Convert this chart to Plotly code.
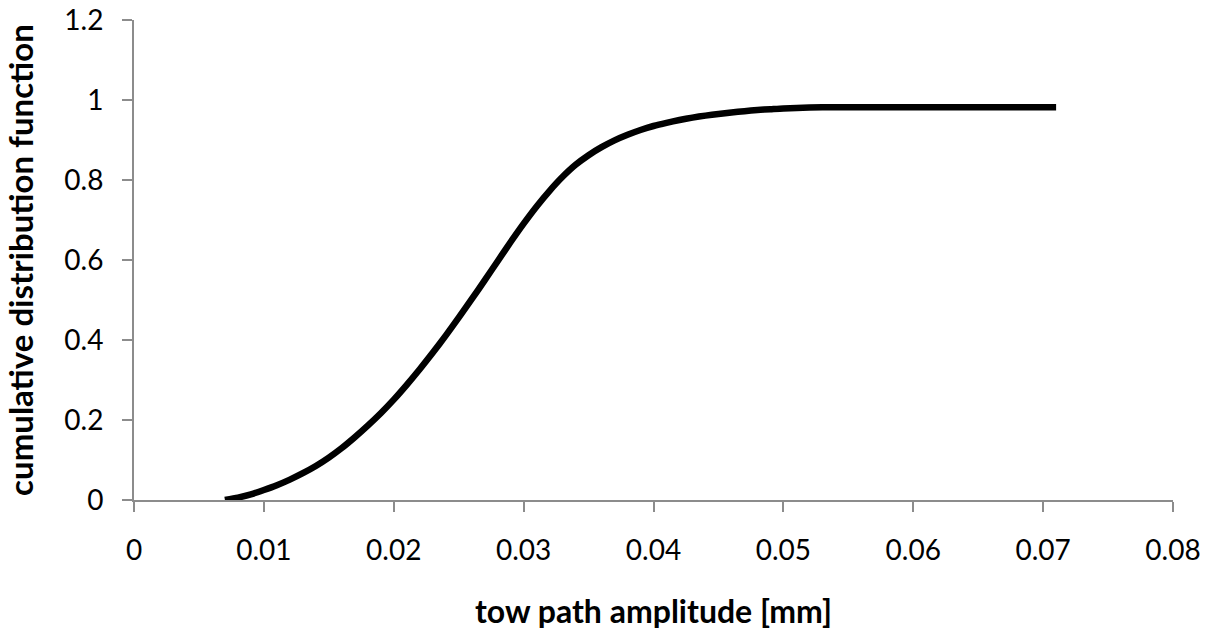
import plotly.graph_objects as go

# tow path amplitude [mm]
amplitude = [0.007, 0.008, 0.009, 0.010, 0.011, 0.012, 0.013, 0.014, 0.015,
             0.016, 0.017, 0.018, 0.019, 0.020, 0.021, 0.022, 0.023, 0.024,
             0.025, 0.026, 0.027, 0.028, 0.029, 0.030, 0.031, 0.032, 0.033,
             0.034, 0.035, 0.036, 0.037, 0.038, 0.039, 0.040, 0.041, 0.042,
             0.043, 0.044, 0.045, 0.046, 0.047, 0.048, 0.049, 0.050, 0.052,
             0.054, 0.056, 0.058, 0.060, 0.062, 0.064, 0.066, 0.068, 0.070,
             0.071]
# cumulative distribution function
cdf = [0.000, 0.006, 0.014, 0.025, 0.037, 0.051, 0.067, 0.085, 0.106,
       0.130, 0.157, 0.186, 0.217, 0.251, 0.288, 0.327, 0.368, 0.411,
       0.456, 0.502, 0.549, 0.597, 0.645, 0.691, 0.734, 0.773, 0.808,
       0.838, 0.862, 0.882, 0.899, 0.913, 0.925, 0.935, 0.943, 0.950,
       0.956, 0.961, 0.965, 0.969, 0.972, 0.975, 0.977, 0.979, 0.981,
       0.982, 0.982, 0.982, 0.982, 0.982, 0.982, 0.982, 0.982, 0.982,
       0.982]

x_ticks = [0, 0.01, 0.02, 0.03, 0.04, 0.05, 0.06, 0.07, 0.08]
x_labels = ['0', '0.01', '0.02', '0.03', '0.04', '0.05', '0.06', '0.07', '0.08']
y_ticks = [0, 0.2, 0.4, 0.6, 0.8, 1.0, 1.2]
y_labels = ['0', '0.2', '0.4', '0.6', '0.8', '1', '1.2']

axis_grey = '#8c8c8c'

fig = go.Figure()
fig.add_trace(go.Scatter(x=amplitude, y=cdf, mode='lines',
                         line=dict(color='black', width=6.5, shape='spline',
                                   smoothing=0.6),
                         showlegend=False))

fig.update_layout(
    width=1215, height=639,
    margin=dict(l=134, r=42, t=20, b=139),
    paper_bgcolor='white', plot_bgcolor='white',
    font=dict(family='Lato', size=28, color='black'),
)

fig.update_xaxes(
    range=[0, 0.08], tickvals=x_ticks, ticktext=x_labels,
    showgrid=False, zeroline=False, automargin=False,
    showline=True, linecolor=axis_grey, linewidth=2,
    ticks='outside', ticklen=10, tickwidth=2, tickcolor=axis_grey,
    ticklabelstandoff=14, ticklabeloverflow='allow',
    title=dict(text='<b>tow path amplitude [mm]</b>', standoff=36,
               font=dict(size=32)),
)
fig.update_yaxes(
    range=[0, 1.2], tickvals=y_ticks, ticktext=y_labels,
    showgrid=False, zeroline=False, automargin=False,
    showline=True, linecolor=axis_grey, linewidth=2,
    ticks='outside', ticklen=10, tickwidth=2, tickcolor=axis_grey,
    ticklabelstandoff=13, ticklabeloverflow='allow',
    title=dict(text='<b>cumulative distribution function</b>', standoff=22,
               font=dict(size=33)),
)

# drop the default 8px body margin so the figure fills the window exactly
fig.write_html('out.html', config={'displayModeBar': False},
               post_script="document.body.style.margin = '0';")
